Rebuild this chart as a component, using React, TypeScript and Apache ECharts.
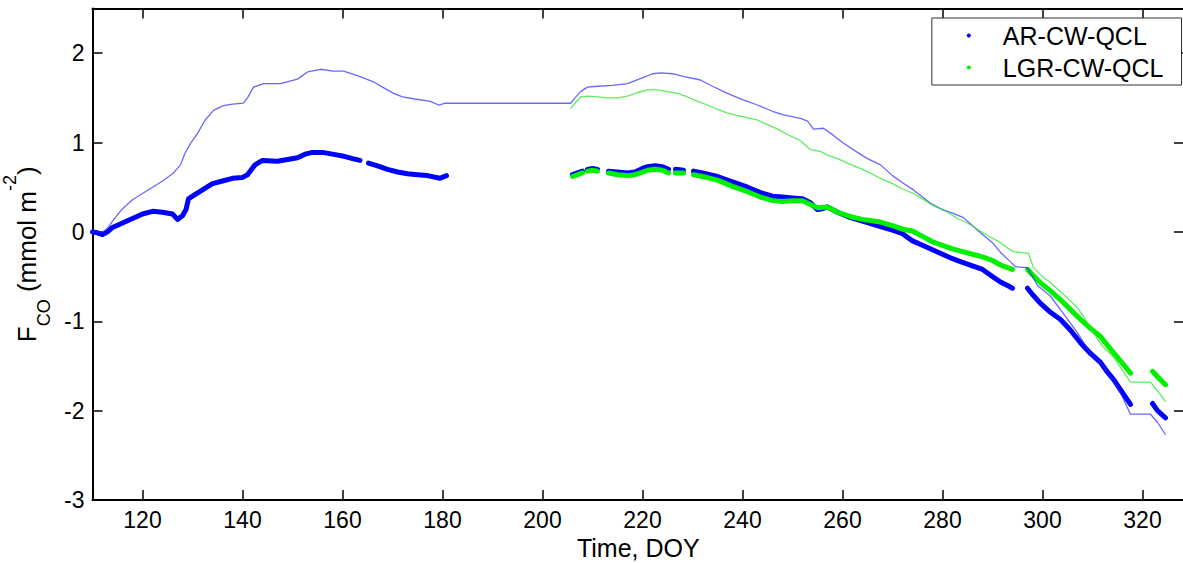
import React, { useEffect, useRef } from "react";
import * as echarts from "echarts";

// ---- data (day of year, cumulative flux mmol m-2); null = gap ----
const xTickValues = [120, 140, 160, 180, 200, 220, 240, 260, 280, 300, 320];
const yTickValues = [-3, -2, -1, 0, 1, 2];

const arFlux: [number, number | null][] = [
  [110, 0.0], [111, -0.01], [112, -0.03], [113, 0.0], [114, 0.05], [116, 0.1], [118, 0.15],
  [120, 0.2], [122, 0.23], [124, 0.22], [126, 0.2], [127, 0.14], [128, 0.18], [128.7, 0.25],
  [129.2, 0.37], [130, 0.4], [132, 0.47], [134, 0.54], [136, 0.57], [138, 0.6], [140, 0.61],
  [141, 0.64], [142.5, 0.75], [144, 0.8], [147, 0.79], [149, 0.81], [151, 0.83], [152.5, 0.87],
  [154, 0.89], [156, 0.89], [158, 0.87], [160, 0.85], [162, 0.82], [163.5, 0.8], [164.3, null],
  [165.2, 0.77], [167, 0.74], [169, 0.7], [171, 0.67], [173, 0.65], [175, 0.64], [177, 0.63],
  [179.5, 0.6], [180.8, 0.63], [190, null],
  [206, 0.64], [207, 0.66], [208, 0.68], [208.5, null], [209, 0.7], [210, 0.71], [211, 0.7],
  [212, null], [213.2, 0.68], [215, 0.67], [217, 0.66], [218.5, 0.67], [220, 0.71], [221, 0.73],
  [222.5, 0.74], [224, 0.73], [225.2, 0.7], [226, null], [226.6, 0.7], [228.2, 0.69], [229, null],
  [230.2, 0.68], [232, 0.66], [235, 0.62], [238, 0.56], [241, 0.5], [243.6, 0.44], [246, 0.4],
  [248, 0.39], [250, 0.38], [252, 0.37], [253.5, 0.33], [255, 0.25], [256, 0.26], [257, 0.28],
  [259, 0.22], [261.6, 0.16], [264, 0.12], [267.6, 0.06], [270, 0.02], [272, -0.02], [274, -0.1],
  [276, -0.15], [278, -0.2], [280, -0.25], [282, -0.3], [284, -0.34], [286, -0.38], [288, -0.42],
  [290, -0.5], [291.6, -0.56], [293, -0.6], [294, -0.63], [295.5, null],
  [297, -0.63], [298, -0.7], [299.6, -0.8], [301.6, -0.9], [303.6, -0.98], [305.6, -1.1],
  [307.6, -1.24], [309.6, -1.36], [311.6, -1.46], [313, -1.57], [314.2, -1.65], [316, -1.8],
  [317.6, -1.93], [320, null], [322, -1.92], [323, -2.0], [324.6, -2.08],
];

const lgrFlux: [number, number | null][] = [
  [206, 0.62], [207, 0.64], [208, 0.66], [208.5, null], [209, 0.68], [210, 0.69], [211, 0.68],
  [212, null], [213.2, 0.66], [215, 0.64], [217, 0.63], [218.5, 0.64], [220, 0.67], [221, 0.69],
  [222.5, 0.7], [224, 0.69], [225.2, 0.66], [226, null], [226.6, 0.66], [228.2, 0.66], [229, null],
  [230.2, 0.64], [232, 0.62], [235, 0.58], [238, 0.51], [241, 0.45], [243.6, 0.39], [246, 0.35],
  [248, 0.34], [250, 0.35], [252, 0.35], [253.5, 0.31], [255, 0.27], [257, 0.28], [259, 0.22],
  [261.6, 0.17], [264, 0.14], [267.6, 0.11], [270, 0.07], [272, 0.03], [274, 0.01], [276, -0.05],
  [278, -0.11], [280, -0.15], [282, -0.19], [284, -0.22], [286, -0.25], [288, -0.28], [290, -0.32],
  [291.6, -0.37], [293, -0.4], [294, -0.42], [295.5, null],
  [297, -0.42], [298, -0.48], [299.6, -0.57], [301.6, -0.66], [303.6, -0.76], [305.6, -0.87],
  [307.6, -0.98], [309.6, -1.08], [311.6, -1.17], [313, -1.27], [314.2, -1.35], [316, -1.47],
  [317.6, -1.58], [320, null], [322, -1.56], [323, -1.62], [324.6, -1.71],
];

const arFilled: [number, number | null][] = [
  [110, 0.0], [112, 0.0], [113, 0.04], [114, 0.12], [116, 0.26], [118, 0.36], [120, 0.43],
  [122, 0.5], [124, 0.57], [126, 0.65], [127.6, 0.75], [128.5, 0.88], [129.6, 0.99], [131, 1.1],
  [132.5, 1.25], [134.2, 1.36], [136, 1.41], [138, 1.43], [140.2, 1.44], [141, 1.5], [142.2, 1.62],
  [144.2, 1.66], [147.6, 1.66], [151, 1.71], [153, 1.79], [155.6, 1.82], [158, 1.8], [160.2, 1.8],
  [163, 1.75], [166.2, 1.68], [168, 1.62], [170.2, 1.55], [172, 1.51], [174.2, 1.49],
  [177.6, 1.46], [179.2, 1.42], [180.6, 1.44], [205.6, 1.44],
  [206.5, 1.5], [207.6, 1.57], [209, 1.62], [211, 1.63], [214, 1.64], [217, 1.66], [220.2, 1.73],
  [222, 1.77], [223.6, 1.78], [226, 1.77], [228.2, 1.74], [231.6, 1.7], [234, 1.63], [237, 1.55],
  [240, 1.48], [243, 1.42], [246, 1.35], [248.2, 1.31], [251.6, 1.27], [253, 1.24], [254.2, 1.15],
  [256.2, 1.16], [258.2, 1.08], [260, 1.0], [263, 0.89], [265, 0.82], [267.6, 0.75], [270, 0.63],
  [272, 0.55], [274.2, 0.47], [276, 0.39], [277.6, 0.32], [280, 0.25], [282, 0.21], [284.2, 0.16],
  [286, 0.07], [287.6, -0.01], [290, -0.12], [291.6, -0.23], [293.5, -0.33], [294.6, -0.39],
  [297, -0.4], [297.5, -0.45], [299, -0.6], [301.6, -0.72], [304, -0.9], [307, -1.13],
  [309.6, -1.36], [311.6, -1.46], [313.6, -1.62], [315.6, -1.8], [317.6, -2.04], [321.6, -2.04],
  [323, -2.13], [324.6, -2.27],
];

const lgrFilled: [number, number | null][] = [
  [205.6, 1.38], [206.5, 1.44], [207.6, 1.51], [209, 1.52], [211, 1.51], [213, 1.5], [215, 1.5],
  [217, 1.52], [219, 1.56], [221, 1.59], [223, 1.59], [225, 1.57], [227, 1.55], [229, 1.51],
  [231, 1.46], [233, 1.42], [235, 1.37], [237, 1.33], [239, 1.3], [241, 1.28], [243, 1.25],
  [245, 1.2], [247, 1.15], [249, 1.09], [251.6, 1.02], [253.6, 0.92], [255.6, 0.9], [257, 0.86],
  [259, 0.82], [261, 0.77], [264, 0.7], [267.6, 0.6], [270, 0.54], [272, 0.48], [274.2, 0.43],
  [276, 0.37], [278, 0.3], [281, 0.22], [283, 0.15], [285, 0.1], [287, 0.03], [289, -0.04],
  [291.6, -0.12], [293, -0.18], [294.2, -0.22], [297.2, -0.24], [298.2, -0.4], [300, -0.5],
  [301.6, -0.57], [304, -0.69], [307, -0.85], [308.6, -0.98], [310.2, -1.13], [312, -1.28],
  [314.2, -1.4], [316, -1.55], [317.6, -1.68], [321.6, -1.68], [323, -1.78], [324.6, -1.9],
];

const FONT = "'Liberation Sans', Arial, Helvetica, sans-serif";

const toData = (pts: [number, number | null][]) =>
  pts.map(([x, y]) => [x, y === null ? "-" : y]);

export default function App() {
  const ref = useRef<HTMLDivElement>(null);

  useEffect(() => {
    if (!ref.current) return;
    const chart = echarts.init(ref.current, undefined, { renderer: "svg" });

    const axisLine = { show: true, onZero: false, lineStyle: { color: "#000", width: 2 } };
    const tick = (vals: number[]) => ({
      show: true,
      inside: true,
      length: 10,
      lineStyle: { color: "#000", width: 1.5 },
      customValues: vals,
    });

    chart.setOption({
      animation: false,
      backgroundColor: "#fff",
      grid: {
        left: 92.5,
        right: -1,
        top: 8.5,
        bottom: 63,
        containLabel: false,
        outerBoundsMode: "none",
      },
      legend: {
        data: ["AR-CW-QCL", "LGR-CW-QCL"],
        orient: "vertical",
        right: 1.5,
        top: 18,
        icon: "circle",
        itemWidth: 4,
        itemHeight: 4,
        itemGap: 7,
        padding: [5, 18, 5, 35],
        backgroundColor: "#fff",
        borderColor: "#333",
        borderWidth: 1,
        borderRadius: 0,
        itemStyle: { borderWidth: 0 },
        textStyle: {
          fontSize: 25,
          color: "#000",
          fontFamily: FONT,
          padding: [0, 0, 0, 27],
        },
      },
      xAxis: [
        {
          type: "value",
          min: 110,
          max: 328.3,
          position: "bottom",
          name: "Time, DOY",
          nameLocation: "middle",
          nameGap: 33,
          nameTextStyle: { fontSize: 25, color: "#000", fontFamily: FONT },
          axisLine,
          axisTick: tick(xTickValues),
          axisLabel: {
            show: true,
            customValues: xTickValues,
            fontSize: 23,
            color: "#000",
            fontFamily: FONT,
            margin: 8,
          },
          splitLine: { show: false },
        },
        {
          type: "value",
          min: 110,
          max: 328.3,
          position: "top",
          axisLine,
          axisTick: tick(xTickValues),
          axisLabel: { show: false },
          splitLine: { show: false },
        },
      ],
      yAxis: [
        {
          type: "value",
          min: -3,
          max: 2.5,
          position: "left",
          name: "{a|F}{sub|CO}{a| (mmol m}{sup|-2}{a|)}",
          nameLocation: "middle",
          nameGap: 40,
          nameTextStyle: {
            fontFamily: FONT,
            color: "#000",
            rich: {
              a: { fontSize: 26, lineHeight: 52, verticalAlign: "middle", fontFamily: FONT, color: "#000" },
              sub: { fontSize: 18, lineHeight: 18, verticalAlign: "bottom", fontFamily: FONT, color: "#000" },
              sup: { fontSize: 18, lineHeight: 40, verticalAlign: "top", fontFamily: FONT, color: "#000" },
            },
          },
          axisLine,
          axisTick: tick(yTickValues),
          axisLabel: {
            show: true,
            customValues: yTickValues,
            fontSize: 23,
            color: "#000",
            fontFamily: FONT,
            margin: 8,
          },
          splitLine: { show: false },
        },
        {
          type: "value",
          min: -3,
          max: 2.5,
          position: "right",
          axisLine,
          axisTick: tick(yTickValues),
          axisLabel: { show: false },
          splitLine: { show: false },
        },
      ],
      series: [
        {
          name: "AR-CW-QCL",
          type: "line",
          data: toData(arFlux),
          symbol: "none",
          showSymbol: false,
          connectNulls: false,
          lineStyle: { color: "#0000ff", width: 5, cap: "round", join: "round" },
          itemStyle: { color: "#0000ff" },
          z: 2,
        },
        {
          name: "LGR-CW-QCL",
          type: "line",
          data: toData(lgrFlux),
          symbol: "none",
          showSymbol: false,
          connectNulls: false,
          lineStyle: { color: "#00f000", width: 5, cap: "round", join: "round" },
          itemStyle: { color: "#00f000" },
          z: 3,
        },
        {
          name: "AR-CW-QCL gap-filled",
          type: "line",
          data: toData(arFilled),
          symbol: "none",
          showSymbol: false,
          lineStyle: { color: "rgba(40,40,255,0.7)", width: 1.3 },
          itemStyle: { color: "rgba(40,40,255,0.7)" },
          z: 4,
        },
        {
          name: "LGR-CW-QCL gap-filled",
          type: "line",
          data: toData(lgrFilled),
          symbol: "none",
          showSymbol: false,
          lineStyle: { color: "rgba(40,230,40,0.75)", width: 1.3 },
          itemStyle: { color: "rgba(40,230,40,0.75)" },
          z: 4,
        },
      ],
    });

    return () => chart.dispose();
  }, []);

  return (
    <div
      ref={ref}
      style={{ position: "fixed", left: 0, top: 0, width: 1183, height: 563 }}
    />
  );
}
